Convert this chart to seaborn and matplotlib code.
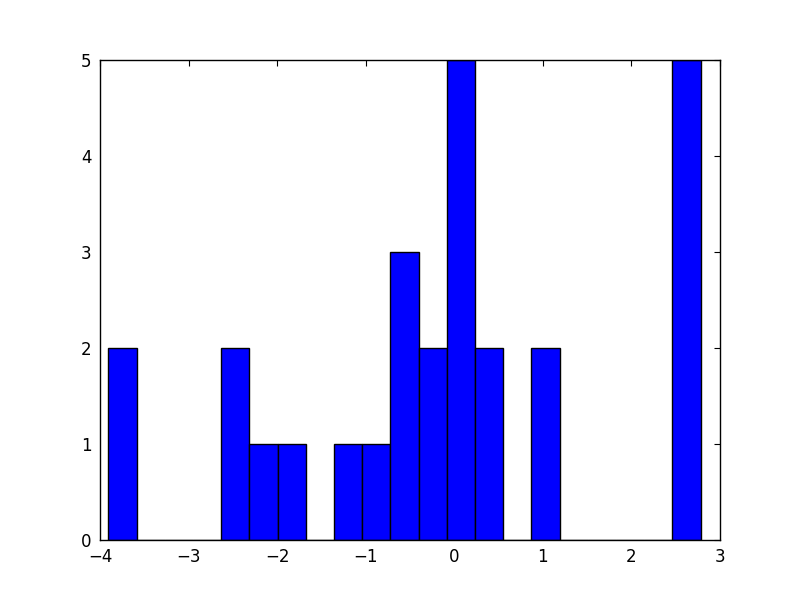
import matplotlib
matplotlib.use("Agg")
import matplotlib.pyplot as plt
import numpy as np
import pandas as pd
import seaborn as sns

# histogram: 21 equal bins between these edges
bin_lo = -3.906
bin_hi = 2.782
counts = [2, 0, 0, 0, 2, 1, 1, 0, 1, 1, 3, 2, 5, 2, 0, 2, 0, 0, 0, 0, 5]

x_ticks = [-4, -3, -2, -1, 0, 1, 2, 3]
y_ticks = [0, 1, 2, 3, 4, 5]


def main() -> None:
    sns.set_style("white")
    plt.rcParams["font.family"] = ["DejaVu Sans"]

    edges = np.linspace(bin_lo, bin_hi, len(counts) + 1)
    df = pd.DataFrame({
        "value": (edges[:-1] + edges[1:]) / 2,
        "count": np.asarray(counts, dtype=float),
    })

    fig = plt.figure(figsize=(8, 6), dpi=100)
    ax = fig.add_axes([0.125, 0.1, 0.775, 0.8])
    sns.histplot(data=df, x="value", weights="count", bins=list(edges), ax=ax,
                 color="#0000ff", edgecolor="black", linewidth=1.0, alpha=1.0)

    ax.set_xlim(-4, 3)
    ax.set_ylim(0, 5)
    ax.set_xticks(x_ticks)
    ax.set_yticks(y_ticks)
    ax.set_xlabel("")
    ax.set_ylabel("")
    for side in ax.spines.values():
        side.set_visible(True)
        side.set_color("black")
        side.set_linewidth(1.0)
    ax.tick_params(direction="in", top=True, right=True, length=4, width=0.8,
                   labelsize=12, colors="black", pad=6)

    fig.savefig("out.png", dpi=100, facecolor="white")
    plt.close(fig)


if __name__ == "__main__":
    main()
